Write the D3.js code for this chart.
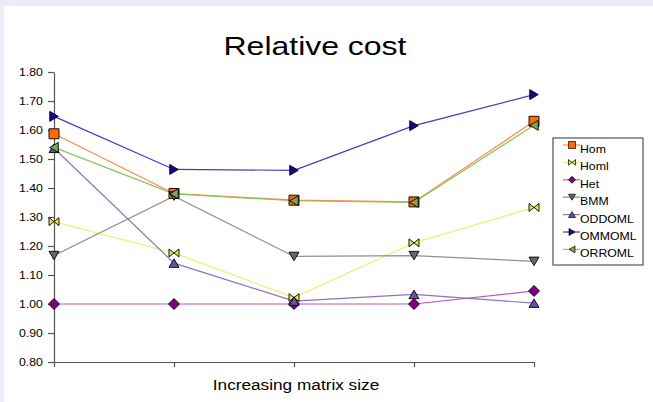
<!DOCTYPE html>
<html>
<head>
<meta charset="utf-8">
<script src="https://cdn.jsdelivr.net/npm/d3@7/dist/d3.min.js"></script>
<style>
  html, body { margin: 0; padding: 0; background: #ebebfa; }
  svg { display: block; }
  text { font-family: "Liberation Sans", Arial, Helvetica, sans-serif; fill: #000; }
</style>
</head>
<body>
<svg id="chart" width="653" height="402"></svg>
<script>
// Matrix size steps along the x axis (unlabelled)
const sizes = [1, 2, 3, 4, 5];

// Relative cost for each method
const hom    = [1.587, 1.381, 1.358, 1.352, 1.630];
const homl   = [1.284, 1.176, 1.022, 1.211, 1.333];
const het    = [1.000, 1.000, 1.000, 1.000, 1.045];
const bmm    = [1.167, 1.372, 1.164, 1.167, 1.147];
const oddoml = [1.537, 1.141, 1.010, 1.033, 1.003];
const ommoml = [1.647, 1.464, 1.461, 1.615, 1.722];
const orroml = [1.540, 1.380, 1.356, 1.350, 1.616];

const yTicks = [0.8, 0.9, 1.0, 1.1, 1.2, 1.3, 1.4, 1.5, 1.6, 1.7, 1.8];

const series = [
  { name: "Hom",    values: hom,    shape: "square",   line: "#ff8a3d", fill: "#ff6a00" },
  { name: "Homl",   values: homl,   shape: "bowtie",   line: "#eeee70", fill: "#e4e444" },
  { name: "Het",    values: het,    shape: "diamond",  line: "#c058c0", fill: "#800080" },
  { name: "BMM",    values: bmm,    shape: "down",     line: "#909090", fill: "#666666" },
  { name: "ODDOML", values: oddoml, shape: "up",       line: "#8a72c0", fill: "#6a50a0" },
  { name: "OMMOML", values: ommoml, shape: "right",    line: "#5434c4", fill: "#22008e" },
  { name: "ORROML", values: orroml, shape: "left",     line: "#8cc064", fill: "#78a850" }
];

const svg = d3.select("#chart");
const SX = 1.23; // horizontal text stretch

// white plot sheet
svg.append("rect").attr("x", 4).attr("y", 6).attr("width", 649).attr("height", 396).attr("fill", "#ffffff");

const x = d3.scalePoint().domain(sizes).range([54, 534]);
const y = d3.scaleLinear().domain([0.8, 1.8]).range([362, 72]);

// marker outlines, centred on the origin
function markerPath(shape, s) {
  const h = s / 2;
  switch (shape) {
    case "square":  return `M${-h},${-h}H${h}V${h}H${-h}Z`;
    case "diamond": return `M0,${-h}L${h},0L0,${h}L${-h},0Z`;
    case "down":    return `M${-h},${-h * 0.85}H${h}L0,${h * 0.85}Z`;
    case "up":      return `M${-h},${h * 0.85}H${h}L0,${-h * 0.85}Z`;
    case "right":   return `M${-h * 0.85},${-h}V${h}L${h * 0.85},0Z`;
    case "left":    return `M${h * 0.85},${-h}V${h}L${-h * 0.85},0Z`;
    case "bowtie":  return `M${-h},${-h * 0.8}L0,0L${-h},${h * 0.8}Z M${h},${-h * 0.8}L0,0L${h},${h * 0.8}Z`;
  }
}

// axes
const yAxis = svg.append("g").attr("transform", "translate(54,0)")
  .call(d3.axisLeft(y).tickValues(yTicks).tickSize(6).tickSizeOuter(0).tickFormat(d3.format(".2f")));
const xAxis = svg.append("g").attr("transform", "translate(0,362)")
  .call(d3.axisBottom(x).tickSize(5).tickSizeOuter(0).tickFormat(""));
[yAxis, xAxis].forEach(g => {
  g.select(".domain").attr("stroke", "#555").attr("stroke-width", 1.2);
  g.selectAll(".tick line").attr("stroke", "#555").attr("stroke-width", 1.2);
});
yAxis.selectAll(".tick text")
  .attr("font-size", 10).attr("font-family", "Liberation Sans, Arial, sans-serif")
  .attr("fill", "#000").attr("transform", `scale(${SX},1)`);

// lines
const line = d3.line().x((d, i) => x(sizes[i])).y(d => y(d));
svg.append("g").selectAll("path").data(series).join("path")
  .attr("d", s => line(s.values))
  .attr("fill", "none")
  .attr("stroke", s => s.line)
  .attr("stroke-width", 1.2);

// markers
series.forEach(s => {
  svg.append("g").selectAll("path").data(s.values).join("path")
    .attr("transform", (d, i) => `translate(${x(sizes[i])},${y(d)})`)
    .attr("d", markerPath(s.shape, s.shape === "diamond" ? 11 : 10))
    .attr("fill", s.fill)
    .attr("stroke", "#000")
    .attr("stroke-width", 0.9);
});

// title
svg.append("text")
  .attr("transform", `translate(315,55) scale(${SX},1)`)
  .attr("text-anchor", "middle").attr("font-size", 26)
  .text("Relative cost");

// x axis title
svg.append("text")
  .attr("transform", `translate(296,390) scale(${SX},1)`)
  .attr("text-anchor", "middle").attr("font-size", 14)
  .text("Increasing matrix size");

// legend
const lg = svg.append("g");
lg.append("rect").attr("x", 553).attr("y", 138).attr("width", 90).attr("height", 127)
  .attr("fill", "#fff").attr("stroke", "#333").attr("stroke-width", 1);
const item = lg.selectAll("g.item").data(series).join("g")
  .attr("class", "item")
  .attr("transform", (d, i) => `translate(0,${145 + i * 17.4})`);
item.append("line").attr("x1", 563).attr("x2", 580).attr("y1", 0).attr("y2", 0)
  .attr("stroke", d => d.line).attr("stroke-width", 1.2);
item.append("path")
  .attr("transform", "translate(572,0)")
  .attr("d", d => markerPath(d.shape, 7))
  .attr("fill", d => d.fill).attr("stroke", "#000").attr("stroke-width", 0.7);
item.append("text")
  .attr("transform", `translate(580,8) scale(${SX},1)`)
  .attr("font-size", 10)
  .text(d => d.name);
</script>
</body>
</html>
